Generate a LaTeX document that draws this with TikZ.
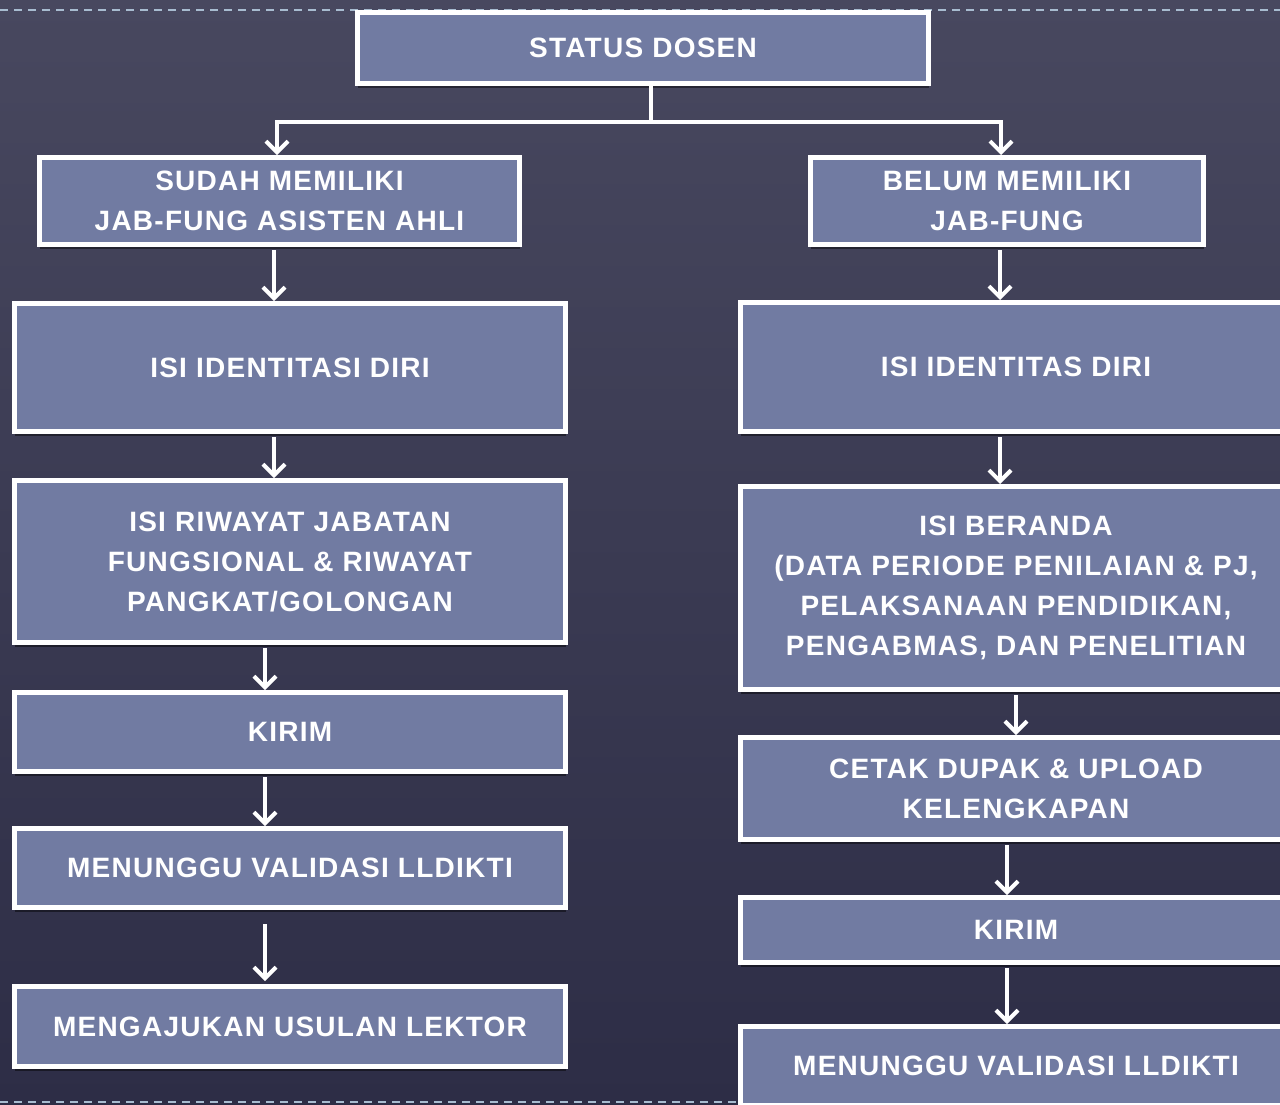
\documentclass[tikz,border=0pt]{standalone}
\usepackage{fontspec}
\setmainfont{Liberation Sans}[LetterSpace=4.5]
\usepackage{xcolor}
\usepackage{tikz}
\usetikzlibrary{arrows.meta, shadows, calc, positioning}
\definecolor{bgtop}{HTML}{48485F}
\definecolor{bgbot}{HTML}{2D2D46}
\definecolor{boxfill}{HTML}{717BA2}
\definecolor{dashcol}{HTML}{A8BCD0}
\tikzset{
	stepbox/.style={draw=white, line width=5pt, fill=boxfill, text=white, align=center, inner sep=0pt,
		font=\bfseries\fontsize{28}{40}\selectfont,
		drop shadow={shadow xshift=0pt, shadow yshift=-4pt, opacity=.45, fill=black}},
	link/.style={draw=white, line width=4pt},
	arr/.style={link, -{Straight Barb[length=11pt, width=22pt]}, shorten <=3pt}
}

\begin{document}
\begin{tikzpicture}[
	x=1pt, y=-1pt,
	wide/.style={minimum width=551pt},
	dashline/.style={dashcol, line width=1.5pt, dash pattern=on 8pt off 6pt}]
	\fill[top color=bgtop, bottom color=bgbot] (0,0) rectangle (1280,1104);
	\useasboundingbox (0,0) rectangle (1280,1104);
	\clip (0,0) rectangle (1280,1104);
	\draw[dashline] (0,10) -- (1280,10);
	\draw[dashline] (0,1102) -- (738,1102);
	\node[stepbox, minimum width=571pt, minimum height=71pt] (status) at (643,48) {STATUS DOSEN};
	\node[stepbox, minimum width=480pt, minimum height=87pt] (sudah) at (279.5,201) {SUDAH MEMILIKI\\JAB-FUNG ASISTEN AHLI};
	\node[stepbox, minimum width=393pt, minimum height=87pt] (belum) at (1007,201) {BELUM MEMILIKI\\JAB-FUNG};
	% kiri
	\node[stepbox, wide, minimum height=128pt] (isikiri) at (290,367.5) {ISI IDENTITASI DIRI};
	\node[stepbox, wide, minimum height=162pt] (riwayat) at (290,561.5) {ISI RIWAYAT JABATAN\\FUNGSIONAL \& RIWAYAT\\PANGKAT/GOLONGAN};
	\node[stepbox, wide, minimum height=79pt] (kirimkiri) at (290,732) {KIRIM};
	\node[stepbox, wide, minimum height=79pt] (validkiri) at (290,868) {MENUNGGU VALIDASI LLDIKTI};
	\node[stepbox, wide, minimum height=80pt] (lektor) at (290,1026.5) {MENGAJUKAN USULAN LEKTOR};
	% kanan
	\node[stepbox, wide, minimum height=129pt] (isikanan) at (1016,367) {ISI IDENTITAS DIRI};
	\node[stepbox, wide, minimum height=203pt] (beranda) at (1016,588) {ISI BERANDA\\(DATA PERIODE PENILAIAN \& PJ,\\PELAKSANAAN PENDIDIKAN,\\PENGABMAS, DAN PENELITIAN};
	\node[stepbox, wide, minimum height=102pt] (cetak) at (1016,788.5) {CETAK DUPAK \& UPLOAD\\KELENGKAPAN};
	\node[stepbox, wide, minimum height=65pt] (kirimkanan) at (1016,930) {KIRIM};
	\node[stepbox, wide, minimum height=79pt] (validkanan) at (1016,1066) {MENUNGGU VALIDASI LLDIKTI};
	\coordinate (cabang) at ($(status.south)+(8,36)$);
	\draw[link] ([xshift=8pt]status.south) -- (cabang);
	\draw[arr, shorten <=0pt] (cabang) -| ([xshift=-2.5pt]sudah.north);
	\draw[arr, shorten <=0pt] (cabang) -| ([xshift=-6pt]belum.north);
	\draw[arr] ([xshift=-5.5pt]sudah.south) -- ([xshift=-5.5pt]sudah.south |- isikiri.north);
	\draw[arr] ([xshift=-16pt]isikiri.south) -- ([xshift=-16pt]isikiri.south |- riwayat.north);
	\draw[arr] ([xshift=-25pt]riwayat.south) -- ([xshift=-25pt]riwayat.south |- kirimkiri.north);
	\draw[arr] ([xshift=-25pt]kirimkiri.south) -- ([xshift=-25pt]kirimkiri.south |- validkiri.north);
	\draw[arr, shorten <=14pt, shorten >=3pt] ([xshift=-25pt]validkiri.south) -- ([xshift=-25pt]validkiri.south |- lektor.north);
	\draw[arr] ([xshift=-7pt]belum.south) -- ([xshift=-7pt]belum.south |- isikanan.north);
	\draw[arr] ([xshift=-16pt]isikanan.south) -- ([xshift=-16pt]isikanan.south |- beranda.north);
	\draw[arr] (beranda.south) -- (cetak.north);
	\draw[arr] ([xshift=-9pt]cetak.south) -- ([xshift=-9pt]cetak.south |- kirimkanan.north);
	\draw[arr] ([xshift=-9pt]kirimkanan.south) -- ([xshift=-9pt]kirimkanan.south |- validkanan.north);
\end{tikzpicture}
\end{document}
